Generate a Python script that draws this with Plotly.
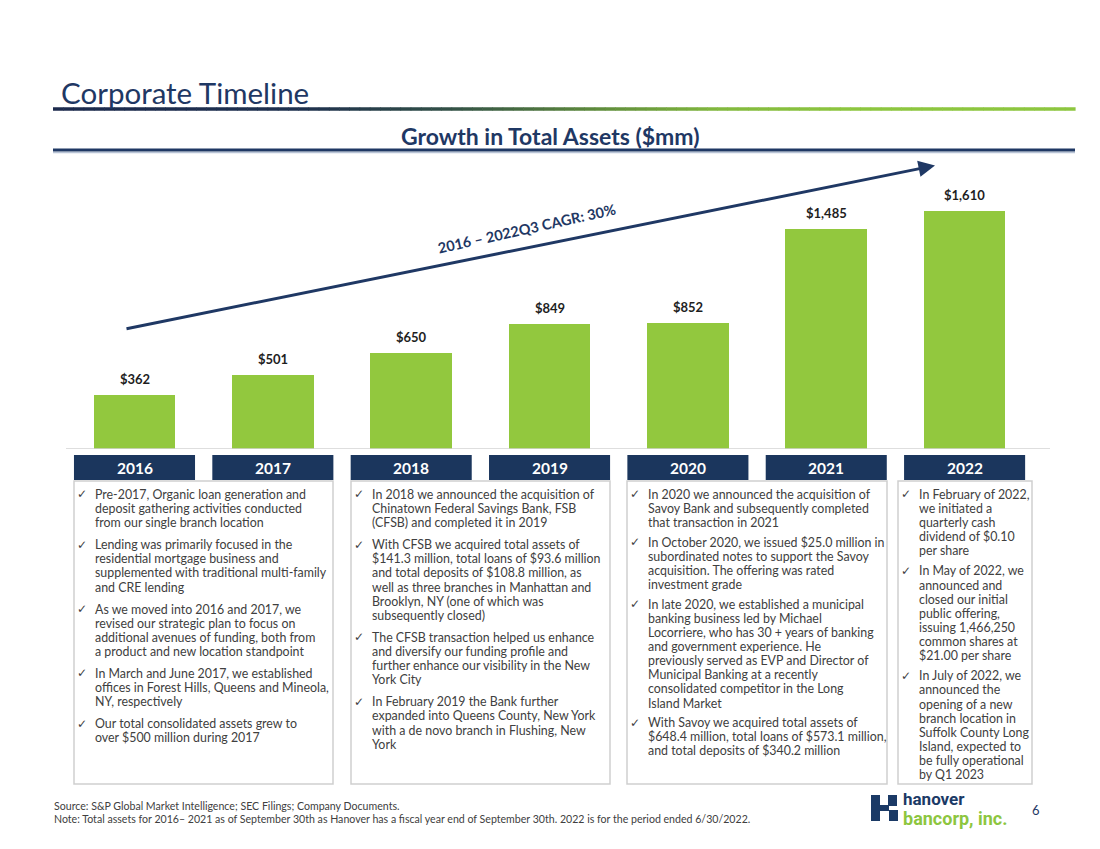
import plotly.graph_objects as go

W, H = 1100, 849


def X(px):
    return px / W


def Y(py):
    return 1 - py / H


# ---------------- data ----------------
years = ['2016', '2017', '2018', '2019', '2020', '2021', '2022']
assets = [362, 501, 650, 849, 852, 1485, 1610]
asset_labels = ['$362', '$501', '$650', '$849', '$852', '$1,485', '$1,610']

title_text = 'Corporate Timeline'
chart_title = 'Growth in Total Assets ($mm)'
cagr_text = '2016 \u2013 2022Q3 CAGR: 30%'

bullets_2016_2017 = [
    ["Pre-2017, Organic loan generation and", "deposit gathering activities conducted",
     "from our single branch location"],
    ["Lending was primarily focused in the", "residential mortgage business and",
     "supplemented with traditional multi-family", "and CRE lending"],
    ["As we moved into 2016 and 2017, we", "revised our strategic plan to focus on",
     "additional avenues of funding, both from", "a product and new location standpoint"],
    ["In March and June 2017, we established", "offices in Forest Hills, Queens and Mineola,",
     "NY, respectively"],
    ["Our total consolidated assets grew to", "over $500 million during 2017"],
]
bullets_2018_2019 = [
    ["In 2018 we announced the acquisition of", "Chinatown Federal Savings Bank, FSB",
     "(CFSB) and completed it in 2019"],
    ["With CFSB we acquired total assets of", "$141.3 million, total loans of $93.6 million",
     "and total deposits of $108.8 million, as", "well as three branches in Manhattan and",
     "Brooklyn, NY (one of which was", "subsequently closed)"],
    ["The CFSB transaction helped us enhance", "and diversify our funding profile and",
     "further enhance our visibility in the New", "York City"],
    ["In February 2019 the Bank further", "expanded into Queens County, New York",
     "with a de novo branch in Flushing, New", "York"],
]
bullets_2020_2021 = [
    ["In 2020 we announced the acquisition of", "Savoy Bank and subsequently completed",
     "that transaction in 2021"],
    ["In October 2020, we issued $25.0 million in", "subordinated notes to support the Savoy",
     "acquisition. The offering was rated", "investment grade"],
    ["In late 2020, we established a municipal", "banking business led by Michael",
     "Locorriere, who has 30 + years of banking", "and government experience. He",
     "previously served as EVP and Director of", "Municipal Banking at a recently",
     "consolidated competitor in the Long", "Island Market"],
    ["With Savoy we acquired total assets of", "$648.4 million, total loans of $573.1 million,",
     "and total deposits of $340.2 million"],
]
bullets_2022 = [
    ["In February of 2022,", "we initiated a", "quarterly cash", "dividend of $0.10", "per share"],
    ["In May of 2022, we", "announced and", "closed our initial", "public offering,",
     "issuing 1,466,250", "common shares at", "$21.00 per share"],
    ["In July of 2022, we", "announced the", "opening of a new", "branch location in",
     "Suffolk County Long", "Island, expected to", "be fully operational", "by Q1 2023"],
]

source_text = 'Source: S&P Global Market Intelligence; SEC Filings; Company Documents.'
note_text = ('Note: Total assets for 2016\u2013 2021 as of September 30th as Hanover has a fiscal year '
             'end of September 30th. 2022 is for the period ended 6/30/2022.')

# ---------------- style ----------------
NAVY = '#1b365d'
TITLE_NAVY = '#1f3864'
GREEN = '#92c83e'
GRAY_TXT = '#404040'
BODY_FONT = 'Lato, Open Sans, sans-serif'

# category geometry (pixels)
spacing = 138.35
center0 = 134.5
x_range = [-center0 / spacing, (W - center0) / spacing]
baseline_px = 449
px_per_unit = (449 - 211) / 1610
top_px = 160
y_range = [0, (baseline_px - top_px) / px_per_unit]

fig = go.Figure()
fig.add_trace(go.Bar(
    x=years, y=assets, marker=dict(color=GREEN, line=dict(width=0)),
    width=0.59, hoverinfo='skip', showlegend=False,
))

shapes = []
annotations = []

# bar labels
for i, (v, lab) in enumerate(zip(assets, asset_labels)):
    annotations.append(dict(
        x=i, y=v, xref='x', yref='y', text='<b>' + lab + '</b>', showarrow=False,
        xanchor='center', yanchor='bottom', yshift=6,
        font=dict(family=BODY_FONT, size=13, color='#1e1e1e')))

# baseline
shapes.append(dict(type='line', xref='paper', yref='y', x0=X(66), x1=X(1050), y0=0, y1=0,
                   line=dict(color='#d3d3d3', width=1.5)))

# year boxes
for i, yr in enumerate(years):
    shapes.append(dict(type='rect', xref='x', yref='paper', x0=i - 0.4375, x1=i + 0.4375,
                       y0=Y(480), y1=Y(455), fillcolor=NAVY, line=dict(width=0)))
    annotations.append(dict(x=i, y=Y(467.5), xref='x', yref='paper', text='<b>' + yr + '</b>',
                            showarrow=False, xanchor='center', yanchor='middle',
                            font=dict(family=BODY_FONT, size=15.5, color='white')))

# title
annotations.append(dict(x=X(59), y=Y(92), xref='paper', yref='paper', text=title_text,
                        showarrow=False, xanchor='left', yanchor='middle',
                        font=dict(family=BODY_FONT, size=29.5, color=TITLE_NAVY)))

# gradient line under title
stops = [(53, (28, 42, 77)), (300, (30, 48, 78)), (450, (50, 80, 70)), (600, (95, 140, 60)),
         (720, (130, 185, 62)), (850, (141, 198, 63)), (1075, (141, 198, 63))]


def grad(px):
    for (a, ca), (b, cb) in zip(stops[:-1], stops[1:]):
        if a <= px <= b:
            t = (px - a) / (b - a)
            return 'rgb(%d,%d,%d)' % tuple(round(ca[k] + (cb[k] - ca[k]) * t) for k in range(3))
    return 'rgb(141,198,63)'


nseg = 100
x_start, x_end = 53, 1075
for k in range(nseg):
    a = x_start + (x_end - x_start) * k / nseg
    b = x_start + (x_end - x_start) * (k + 1) / nseg
    shapes.append(dict(type='line', xref='paper', yref='paper', x0=X(a), x1=X(b + 0.6),
                       y0=Y(109), y1=Y(109), line=dict(color=grad((a + b) / 2), width=3.5)))

# chart subtitle and rule
annotations.append(dict(x=X(550), y=Y(136), xref='paper', yref='paper', text='<b>' + chart_title + '</b>',
                        showarrow=False, xanchor='center', yanchor='middle',
                        font=dict(family=BODY_FONT, size=23, color=TITLE_NAVY)))
shapes.append(dict(type='line', xref='paper', yref='paper', x0=X(53), x1=X(1075), y0=Y(152.5), y1=Y(152.5),
                   line=dict(color='#b9c4d6', width=1.5)))
shapes.append(dict(type='line', xref='paper', yref='paper', x0=X(53), x1=X(1075), y0=Y(150), y1=Y(150),
                   line=dict(color=TITLE_NAVY, width=3)))

# CAGR arrow
annotations.append(dict(x=X(935), y=Y(165.5), xref='paper', yref='paper', text='',
                        showarrow=True, arrowhead=2, arrowsize=1.1, arrowwidth=3, arrowcolor=TITLE_NAVY,
                        ax=125 - 935, ay=329 - 165.5, standoff=0))
annotations.append(dict(x=X(527), y=Y(229), xref='paper', yref='paper', text='<b>' + cagr_text + '</b>',
                        showarrow=False, textangle=-12.5, xanchor='center', yanchor='middle',
                        font=dict(family=BODY_FONT, size=14.5, color=TITLE_NAVY)))

# text boxes
boxes = [
    (74, 333, 93, bullets_2016_2017, 22.0),
    (351, 610, 370, bullets_2018_2019, 22.0),
    (627, 887, 646, bullets_2020_2021, 19.5),
    (898, 1032, 917, bullets_2022, 20.0),
]
line_h = 14.15
for x0, x1, tx, bullets, gap in boxes:
    shapes.append(dict(type='rect', xref='paper', yref='paper', x0=X(x0), x1=X(x1), y0=Y(784), y1=Y(481),
                       line=dict(color='#cfcfcf', width=1.5), fillcolor='rgba(0,0,0,0)'))
    ypos = 494.3
    for bi, lines in enumerate(bullets):
        annotations.append(dict(x=X(tx - 18), y=Y(ypos), xref='paper', yref='paper', text='\u2713',
                                showarrow=False, xanchor='left', yanchor='middle',
                                font=dict(family='DejaVu Sans', size=12, color=GRAY_TXT)))
        for li, ln in enumerate(lines):
            annotations.append(dict(x=X(tx), y=Y(ypos), xref='paper', yref='paper', text=ln,
                                    showarrow=False, xanchor='left', yanchor='middle',
                                    font=dict(family=BODY_FONT, size=12.4, color=GRAY_TXT)))
            if li < len(lines) - 1:
                ypos += line_h
        ypos += gap

# footer
annotations.append(dict(x=X(52), y=Y(806), xref='paper', yref='paper', text=source_text, showarrow=False,
                        xanchor='left', yanchor='middle', font=dict(family=BODY_FONT, size=10.6, color=GRAY_TXT)))
annotations.append(dict(x=X(52), y=Y(819), xref='paper', yref='paper', text=note_text, showarrow=False,
                        xanchor='left', yanchor='middle', font=dict(family=BODY_FONT, size=10.6, color=GRAY_TXT)))
annotations.append(dict(x=X(1036), y=Y(810), xref='paper', yref='paper', text='6', showarrow=False,
                        xanchor='center', yanchor='middle', font=dict(family=BODY_FONT, size=13, color=TITLE_NAVY)))

# logo
logo_navy = '#1b3a66'
for (a, b, c, d) in [(871, 880, 795, 821), (879, 889, 805, 811), (888, 897, 795, 806), (889, 898, 810, 821)]:
    shapes.append(dict(type='rect', xref='paper', yref='paper', x0=X(a), x1=X(b), y0=Y(d), y1=Y(c),
                       fillcolor=logo_navy, line=dict(width=0)))
LOGO_FONT = 'Liberation Sans Narrow, Roboto, Arial, sans-serif'
annotations.append(dict(x=X(901), y=Y(799), xref='paper', yref='paper', text='<b>hanover</b>', showarrow=False,
                        xanchor='left', yanchor='middle', font=dict(family=LOGO_FONT, size=17, color=logo_navy)))
annotations.append(dict(x=X(901), y=Y(818), xref='paper', yref='paper', text='<b>bancorp, inc.</b>',
                        showarrow=False, xanchor='left', yanchor='middle',
                        font=dict(family=LOGO_FONT, size=18, color='#8dc63f')))

fig.update_layout(
    width=W, height=H, margin=dict(l=0, r=0, t=0, b=0),
    paper_bgcolor='white', plot_bgcolor='rgba(0,0,0,0)',
    xaxis=dict(type='category', range=x_range, domain=[0, 1], showticklabels=False, showgrid=False,
               zeroline=False, showline=False, ticks='', fixedrange=True),
    yaxis=dict(range=y_range, domain=[Y(baseline_px), Y(top_px)], showticklabels=False, showgrid=False,
               zeroline=False, showline=False, ticks='', fixedrange=True),
    shapes=shapes, annotations=annotations, showlegend=False, bargap=0,
)

fig.write_html('out.html')
